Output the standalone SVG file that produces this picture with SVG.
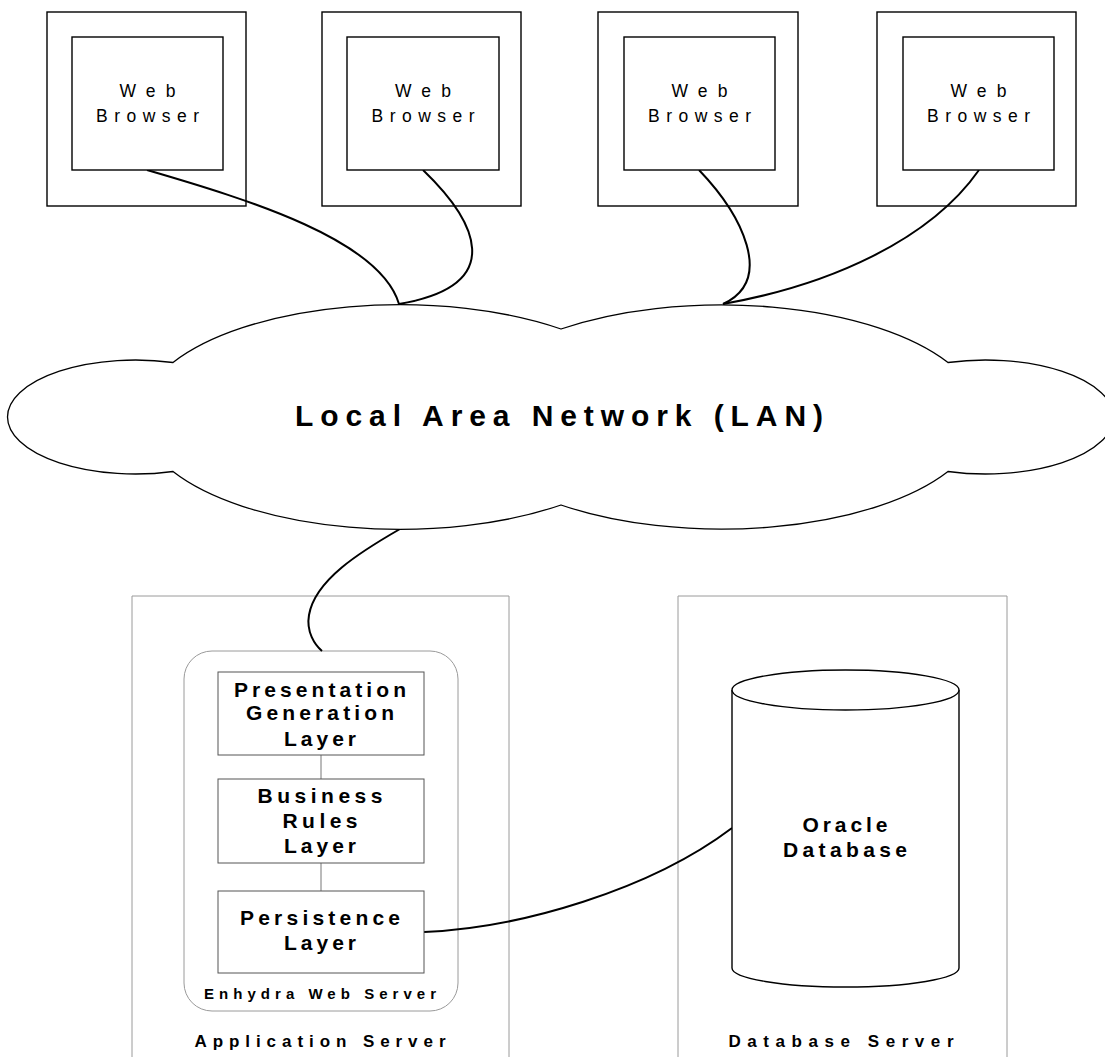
<svg xmlns="http://www.w3.org/2000/svg" width="1105" height="1057" viewBox="0 0 1105 1057">
<style>
.box{fill:#fff;stroke:#000;stroke-width:1.4}
.frame{fill:none;stroke:#000;stroke-width:1.4}
.srv{fill:none;stroke:#9a9a9a;stroke-width:1}
.ews{fill:#fff;stroke:#9a9a9a;stroke-width:1}
.layer{fill:#fff;stroke:#555;stroke-width:1}
.vl{stroke:#777;stroke-width:1}
.link{fill:none;stroke:#000;stroke-width:2}
.cloud{fill:#fff;stroke:#000;stroke-width:1.3}
.t{font-family:"Liberation Sans",Arial,sans-serif;fill:#000;text-anchor:middle}
.wb{font-size:17.5px}
.lb{font-size:21px;font-weight:bold}
.sb{font-size:17px;font-weight:bold}
</style>
<rect width="1105" height="1057" fill="#fff"/>

<g id="app-server">
  <path class="srv" d="M132,1057 V596 H509 V1057"/>
  <text class="t sb" x="320" y="1047" textLength="251" lengthAdjust="spacing">Application Server</text>
</g>
<g id="db-server">
  <path class="srv" d="M678,1057 V596 H1007 V1057"/>
  <text class="t sb" x="841" y="1047" textLength="225" lengthAdjust="spacing">Database Server</text>
</g>

<g id="enhydra">
  <rect class="ews" x="184" y="651" width="274" height="360" rx="28"/>
  <text class="t" x="320" y="999" style="font-size:15px;font-weight:bold" textLength="232" lengthAdjust="spacing">Enhydra Web Server</text>
</g>

<g id="connectors">
  <path class="link" d="M147,170 C250,200 380,240 399,304"/>
  <path class="link" d="M423,170 C475,220 510,285 399,304"/>
  <path class="link" d="M699,170 C742,215 775,280 723,304"/>
  <path class="link" d="M979,170 C930,240 830,285 723,304"/>
  <path class="link" d="M400,529 C360,552 315,580 309,615 C306,632 315,645 322,651"/>
  <path class="link" d="M424,932 C520,928 650,890 732,828"/>
  <line class="vl" x1="321" y1="755" x2="321" y2="779"/>
  <line class="vl" x1="321" y1="863" x2="321" y2="891"/>
</g>

<g id="browser1">
  <rect class="frame" x="47" y="12" width="199" height="194"/>
  <rect class="box" x="72" y="37" width="151" height="133"/>
  <text class="t wb" x="147.5" y="97" textLength="56" lengthAdjust="spacing">Web</text>
  <text class="t wb" x="147.5" y="122" textLength="103" lengthAdjust="spacing">Browser</text>
</g>
<g id="browser2">
  <rect class="frame" x="322" y="12" width="199" height="194"/>
  <rect class="box" x="347" y="37" width="152" height="133"/>
  <text class="t wb" x="423" y="97" textLength="56" lengthAdjust="spacing">Web</text>
  <text class="t wb" x="423" y="122" textLength="103" lengthAdjust="spacing">Browser</text>
</g>
<g id="browser3">
  <rect class="frame" x="598" y="12" width="200" height="194"/>
  <rect class="box" x="624" y="37" width="151" height="133"/>
  <text class="t wb" x="699.5" y="97" textLength="56" lengthAdjust="spacing">Web</text>
  <text class="t wb" x="699.5" y="122" textLength="103" lengthAdjust="spacing">Browser</text>
</g>
<g id="browser4">
  <rect class="frame" x="877" y="12" width="199" height="194"/>
  <rect class="box" x="903" y="37" width="151" height="133"/>
  <text class="t wb" x="978.5" y="97" textLength="56" lengthAdjust="spacing">Web</text>
  <text class="t wb" x="978.5" y="122" textLength="103" lengthAdjust="spacing">Browser</text>
</g>

<g id="lan">
  <path class="cloud" d="M173,362.5 A259.5 112.5 0 0 1 561,329 A259.5 112.5 0 0 1 948,362.5 A128 57 0 1 1 948,471.5 A259.5 112.5 0 0 1 561,505 A259.5 112.5 0 0 1 173,471.5 A128 57 0 1 1 173,362.5 Z"/>
  <text class="t" x="559" y="426" style="font-size:30px;font-weight:bold" textLength="528" lengthAdjust="spacing">Local Area Network (LAN)</text>
</g>

<g id="presentation-layer">
  <rect class="layer" x="218" y="672" width="206" height="83"/>
  <text class="t lb" x="320" y="697" textLength="172" lengthAdjust="spacing">Presentation</text>
  <text class="t lb" x="320" y="720" textLength="148" lengthAdjust="spacing">Generation</text>
  <text class="t lb" x="320" y="746" textLength="72" lengthAdjust="spacing">Layer</text>
</g>
<g id="business-layer">
  <rect class="layer" x="218" y="779" width="206" height="84"/>
  <text class="t lb" x="320" y="803" textLength="125" lengthAdjust="spacing">Business</text>
  <text class="t lb" x="320" y="828" textLength="75" lengthAdjust="spacing">Rules</text>
  <text class="t lb" x="320" y="853" textLength="72" lengthAdjust="spacing">Layer</text>
</g>
<g id="persistence-layer">
  <rect class="layer" x="218" y="891" width="206" height="82"/>
  <text class="t lb" x="320" y="925" textLength="160" lengthAdjust="spacing">Persistence</text>
  <text class="t lb" x="320" y="950" textLength="72" lengthAdjust="spacing">Layer</text>
</g>

<g id="oracle-db">
  <path class="box" d="M732,690 V968 A113.5 19 0 0 0 959,968 V690"/>
  <ellipse class="box" cx="845.5" cy="690" rx="113.5" ry="20"/>
  <text class="t lb" x="845" y="832" textLength="85" lengthAdjust="spacing">Oracle</text>
  <text class="t lb" x="845" y="857" textLength="124" lengthAdjust="spacing">Database</text>
</g>
</svg>
